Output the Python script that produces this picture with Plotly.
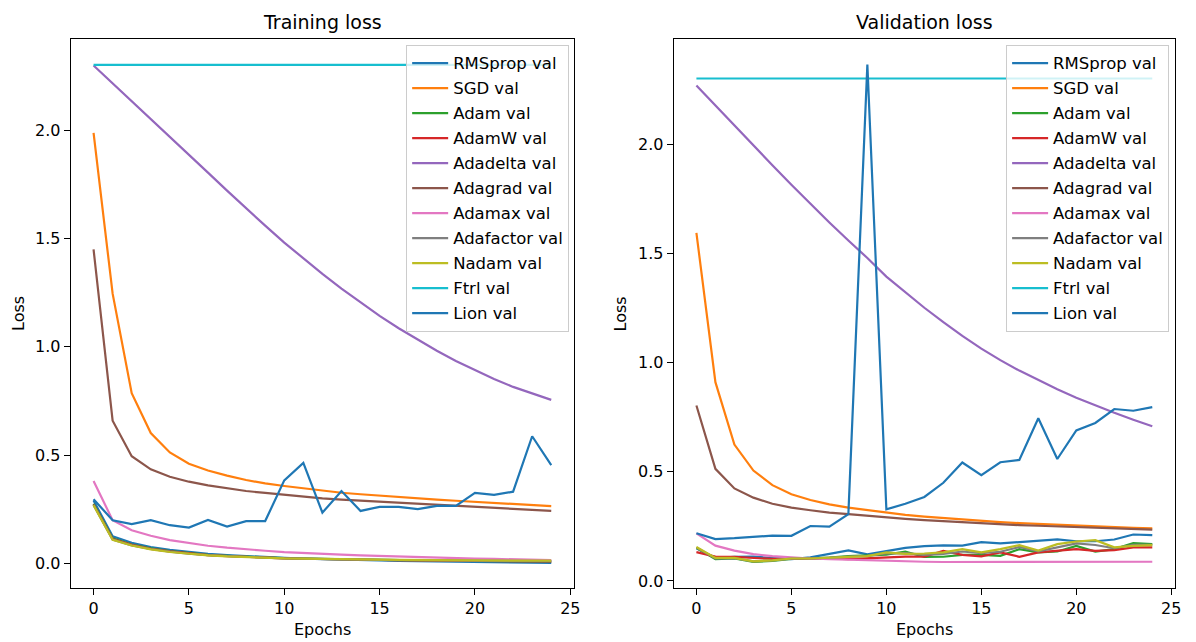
import plotly.graph_objects as go

epochs = list(range(25))

optimizers = ["RMSprop", "SGD", "Adam", "AdamW", "Adadelta", "Adagrad",
              "Adamax", "Adafactor", "Nadam", "Ftrl", "Lion"]
colors = ["#1f77b4", "#ff7f0e", "#2ca02c", "#d62728", "#9467bd", "#8c564b",
          "#e377c2", "#7f7f7f", "#bcbd22", "#17becf", "#1f77b4"]

# training loss per optimizer
train_rmsprop = [0.290, 0.125, 0.095, 0.075, 0.062, 0.052, 0.044, 0.038, 0.033, 0.029, 0.025, 0.022,
                 0.019, 0.017, 0.015, 0.013, 0.011, 0.010, 0.009, 0.008, 0.006, 0.005, 0.004, 0.003, 0.002]
train_sgd = [1.989, 1.246, 0.786, 0.602, 0.512, 0.460, 0.429, 0.405, 0.385, 0.369, 0.357, 0.346,
             0.335, 0.326, 0.319, 0.312, 0.306, 0.300, 0.294, 0.289, 0.284, 0.279, 0.274, 0.269, 0.264]
train_adam = [0.275, 0.115, 0.087, 0.069, 0.056, 0.046, 0.039, 0.034, 0.030, 0.027, 0.024, 0.022,
              0.020, 0.018, 0.017, 0.015, 0.014, 0.013, 0.012, 0.011, 0.010, 0.010, 0.009, 0.008, 0.008]
train_adamw = [0.272, 0.112, 0.085, 0.067, 0.055, 0.045, 0.038, 0.033, 0.029, 0.026, 0.023, 0.021,
               0.019, 0.018, 0.016, 0.015, 0.014, 0.013, 0.012, 0.011, 0.011, 0.010, 0.010, 0.009, 0.009]
train_adadelta = [2.300, 2.218, 2.136, 2.054, 1.972, 1.891, 1.805, 1.722, 1.640, 1.560, 1.482, 1.408,
                  1.337, 1.269, 1.204, 1.143, 1.086, 1.032, 0.982, 0.935, 0.892, 0.852, 0.815, 0.784, 0.755]
train_adagrad = [1.450, 0.659, 0.495, 0.434, 0.400, 0.377, 0.360, 0.346, 0.334, 0.325, 0.316, 0.308,
                 0.300, 0.294, 0.289, 0.284, 0.279, 0.274, 0.269, 0.264, 0.259, 0.255, 0.250, 0.246, 0.242]
train_adamax = [0.380, 0.199, 0.153, 0.127, 0.107, 0.093, 0.081, 0.072, 0.064, 0.058, 0.052, 0.047,
                0.043, 0.040, 0.037, 0.034, 0.031, 0.029, 0.027, 0.024, 0.022, 0.020, 0.018, 0.017, 0.015]
train_adafactor = [0.270, 0.110, 0.083, 0.066, 0.054, 0.044, 0.038, 0.033, 0.029, 0.026, 0.023, 0.021,
                   0.020, 0.018, 0.017, 0.016, 0.015, 0.014, 0.013, 0.012, 0.012, 0.011, 0.011, 0.010, 0.010]
train_nadam = [0.268, 0.108, 0.082, 0.064, 0.052, 0.043, 0.037, 0.032, 0.028, 0.026, 0.023, 0.022,
               0.020, 0.019, 0.018, 0.017, 0.016, 0.015, 0.014, 0.014, 0.013, 0.013, 0.012, 0.012, 0.012]
train_ftrl = [2.3026] * 25
train_lion = [0.296, 0.199, 0.181, 0.199, 0.176, 0.165, 0.200, 0.170, 0.195, 0.195, 0.383, 0.464,
              0.234, 0.334, 0.242, 0.261, 0.261, 0.250, 0.265, 0.265, 0.325, 0.316, 0.331, 0.587, 0.454]

# validation loss per optimizer
val_rmsprop = [0.150, 0.105, 0.110, 0.112, 0.105, 0.100, 0.108, 0.125, 0.140, 0.122, 0.138, 0.152,
               0.160, 0.163, 0.162, 0.178, 0.172, 0.178, 0.183, 0.191, 0.182, 0.182, 0.190, 0.213, 0.210]
val_sgd = [1.595, 0.911, 0.625, 0.506, 0.439, 0.397, 0.371, 0.351, 0.336, 0.324, 0.313, 0.303,
           0.295, 0.288, 0.282, 0.276, 0.270, 0.265, 0.261, 0.256, 0.252, 0.249, 0.246, 0.243, 0.241]
val_adam = [0.152, 0.100, 0.103, 0.087, 0.092, 0.101, 0.104, 0.107, 0.114, 0.118, 0.121, 0.135,
            0.110, 0.111, 0.120, 0.120, 0.115, 0.146, 0.131, 0.135, 0.161, 0.135, 0.146, 0.173, 0.169]
val_adamw = [0.132, 0.112, 0.110, 0.104, 0.101, 0.102, 0.104, 0.104, 0.100, 0.104, 0.108, 0.112,
             0.112, 0.138, 0.120, 0.113, 0.131, 0.111, 0.131, 0.138, 0.146, 0.138, 0.141, 0.154, 0.154]
val_adadelta = [2.270, 2.178, 2.086, 1.995, 1.905, 1.816, 1.729, 1.643, 1.560, 1.480, 1.395, 1.322,
                1.252, 1.186, 1.123, 1.065, 1.012, 0.964, 0.921, 0.879, 0.840, 0.805, 0.771, 0.739, 0.709]
val_adagrad = [0.804, 0.514, 0.424, 0.382, 0.354, 0.336, 0.324, 0.313, 0.306, 0.298, 0.291, 0.285,
               0.279, 0.274, 0.270, 0.265, 0.261, 0.256, 0.253, 0.250, 0.247, 0.244, 0.241, 0.238, 0.235]
val_adamax = [0.218, 0.162, 0.139, 0.123, 0.114, 0.108, 0.103, 0.100, 0.097, 0.094, 0.091, 0.089,
              0.088, 0.087, 0.087, 0.087, 0.086, 0.086, 0.087, 0.087, 0.088, 0.088, 0.088, 0.088, 0.088]
val_adafactor = [0.153, 0.104, 0.105, 0.090, 0.094, 0.102, 0.103, 0.106, 0.110, 0.115, 0.126, 0.128,
                 0.120, 0.124, 0.135, 0.127, 0.134, 0.156, 0.136, 0.153, 0.172, 0.165, 0.150, 0.166, 0.166]
val_nadam = [0.156, 0.106, 0.106, 0.090, 0.094, 0.103, 0.103, 0.106, 0.108, 0.114, 0.131, 0.124,
             0.126, 0.131, 0.146, 0.131, 0.146, 0.164, 0.139, 0.169, 0.181, 0.187, 0.154, 0.161, 0.164]
val_ftrl = [2.3026] * 25
val_lion = [0.219, 0.192, 0.196, 0.202, 0.208, 0.207, 0.252, 0.249, 0.306, 2.366, 0.328, 0.354,
            0.385, 0.450, 0.543, 0.485, 0.544, 0.555, 0.746, 0.559, 0.690, 0.724, 0.788, 0.780, 0.797]

train_series = [train_rmsprop, train_sgd, train_adam, train_adamw, train_adadelta, train_adagrad,
                train_adamax, train_adafactor, train_nadam, train_ftrl, train_lion]
val_series = [val_rmsprop, val_sgd, val_adam, val_adamw, val_adadelta, val_adagrad,
              val_adamax, val_adafactor, val_nadam, val_ftrl, val_lion]

# the page body has an 8px margin, so the figure sits at (8, 8) in the window
OFF = 8
W, H = 1196 - OFF, 642 - OFF
FONT = "DejaVu Sans"


def px_x(p):
    # window pixel -> paper fraction
    return (p - OFF) / W


def px_y(p):
    return 1 - (p - OFF) / H


fig = go.Figure()

for name, color, ys in zip(optimizers, colors, train_series):
    fig.add_trace(go.Scatter(x=epochs, y=ys, mode="lines", name=f"{name} val",
                             line=dict(color=color, width=2.2),
                             xaxis="x", yaxis="y", legend="legend",
                             legendgroup=f"train_{name}"))

for name, color, ys in zip(optimizers, colors, val_series):
    fig.add_trace(go.Scatter(x=epochs, y=ys, mode="lines", name=f"{name} val",
                             line=dict(color=color, width=2.2),
                             xaxis="x2", yaxis="y2", legend="legend2",
                             legendgroup=f"val_{name}"))

axis_style = dict(showline=True, mirror=True, linecolor="black", linewidth=1,
                  ticks="outside", ticklen=6, tickwidth=1, tickcolor="black",
                  showgrid=False, zeroline=False,
                  tickfont=dict(family=FONT, size=16, color="black"))

left_dom = [px_x(71), px_x(577)]
right_dom = [px_x(677), px_x(1181)]
y_dom = [px_y(590.5), px_y(39.5)]

legend_style = dict(bgcolor="rgba(255,255,255,0.8)", bordercolor="#cccccc", borderwidth=1,
                    font=dict(family=FONT, size=16.5, color="black"),
                    xanchor="right", yanchor="top", itemwidth=36,
                    traceorder="grouped", tracegroupgap=0.55)

fig.update_layout(
    width=W, height=H,
    margin=dict(l=0, r=0, t=0, b=0),
    paper_bgcolor="white", plot_bgcolor="white",
    font=dict(family=FONT, size=16, color="black"),
    xaxis=dict(domain=left_dom, range=[-1.2, 25.2], dtick=5, tick0=0, anchor="y", **axis_style),
    yaxis=dict(domain=y_dom, range=[-0.113, 2.421], dtick=0.5, tick0=0, tickformat=".1f",
               anchor="x", **axis_style),
    xaxis2=dict(domain=right_dom, range=[-1.2, 25.2], dtick=5, tick0=0, anchor="y2", **axis_style),
    yaxis2=dict(domain=y_dom, range=[-0.031, 2.482], dtick=0.5, tick0=0, tickformat=".1f",
                anchor="x2", **axis_style),
    legend=dict(x=px_x(572), y=px_y(45), **legend_style),
    legend2=dict(x=px_x(1175), y=px_y(45), **legend_style),
    showlegend=True,
)

text_font = dict(family=FONT, size=16, color="black")
annotations = [
    dict(text="Training loss", x=px_x(324), y=px_y(22.5), font=dict(family=FONT, size=19, color="black"),
         xanchor="center", yanchor="middle"),
    dict(text="Validation loss", x=px_x(929), y=px_y(22.5), font=dict(family=FONT, size=19, color="black"),
         xanchor="center", yanchor="middle"),
    dict(text="Epochs", x=px_x(324), y=px_y(621), font=text_font, xanchor="center", yanchor="top"),
    dict(text="Epochs", x=px_x(929), y=px_y(621), font=text_font, xanchor="center", yanchor="top"),
    dict(text="Loss", x=px_x(18.5), y=px_y(315), font=text_font, textangle=-90,
         xanchor="center", yanchor="middle"),
    dict(text="Loss", x=px_x(624), y=px_y(315), font=text_font, textangle=-90,
         xanchor="center", yanchor="middle"),
]
for a in annotations:
    a.update(xref="paper", yref="paper", showarrow=False)
fig.update_layout(annotations=annotations)

fig.write_html("out.html")
